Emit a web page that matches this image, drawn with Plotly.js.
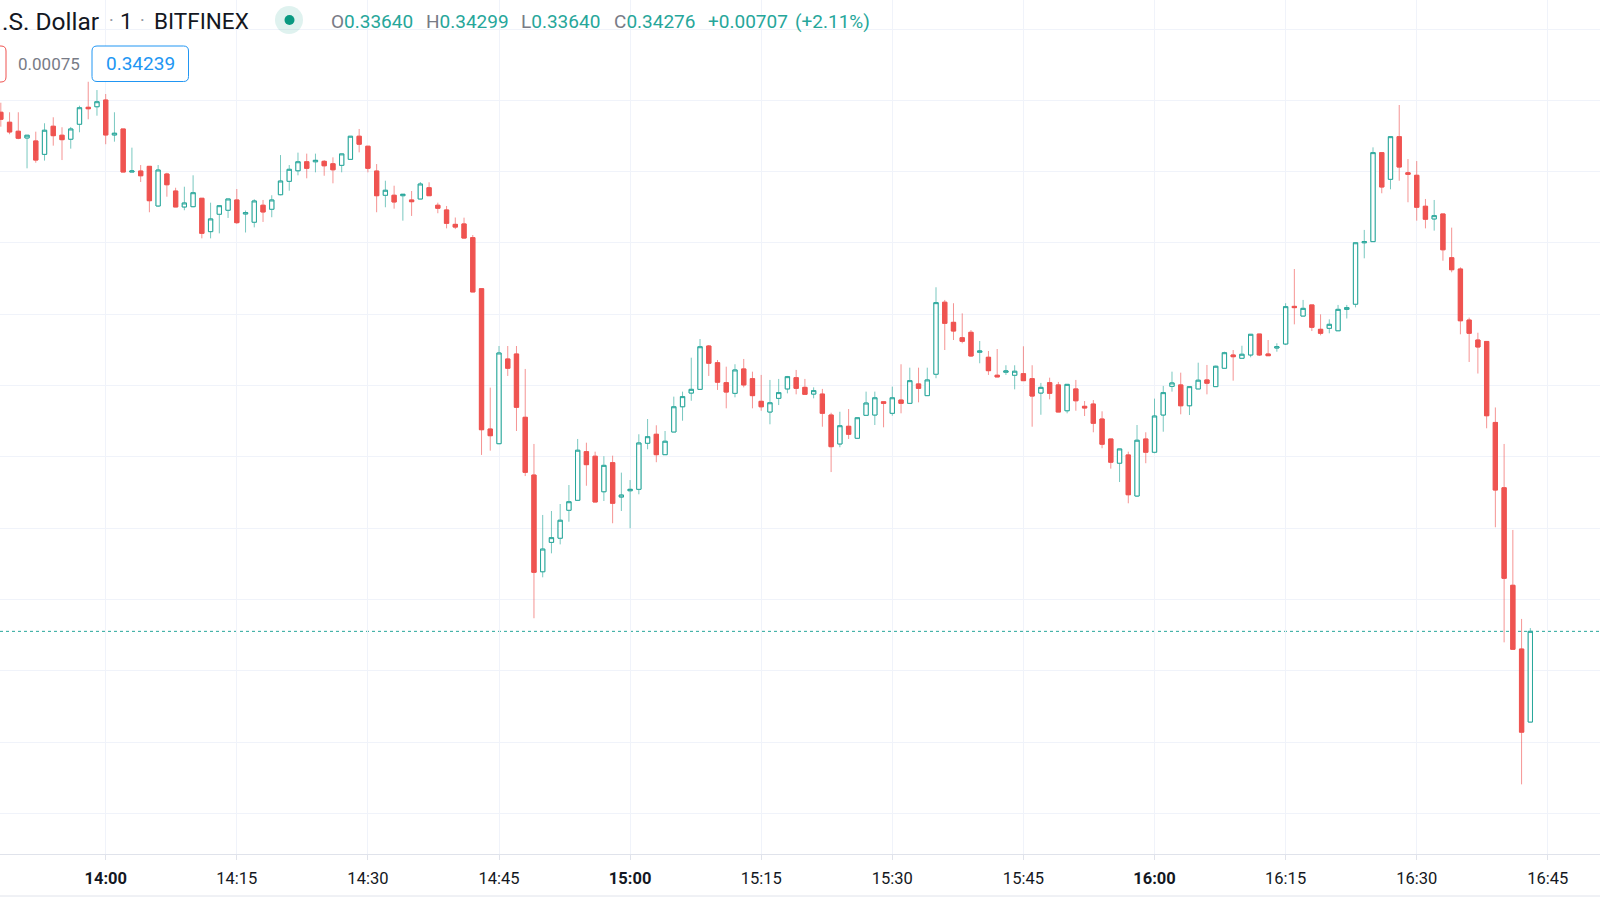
<!DOCTYPE html>
<html>
<head>
<meta charset="utf-8">
<script src="https://cdn.plot.ly/plotly-3.0.1.min.js"></script>
<style>html,body{margin:0;padding:0;background:#fff;}#chart{width:1600px;height:900px;}</style>
</head>
<body>
<div id="chart"></div>
<script>
// ---- DATA (1-minute candles, 13:48 .. 16:43) ----
const START_TIME = '13:48';
const OPEN = [
0.37916,0.37846,0.37783,0.37736,0.37715,0.37621,0.37818,0.37755,0.37727,0.37832,
0.37951,0.37955,0.38002,0.37757,0.37799,0.37497,0.37504,0.37537,0.37259,0.37483,
0.37364,0.37252,0.37254,0.37313,0.37079,0.37201,0.37229,0.37301,0.37203,0.37145,
0.37264,0.37236,0.37338,0.37432,0.37506,0.37569,0.37569,0.37572,0.37555,0.37544,
0.37586,0.37748,0.37678,0.37504,0.37334,0.37334,0.37331,0.37301,0.37308,0.37387,
0.37264,0.37231,0.37130,0.37133,0.37037,0.36679,0.35695,0.35592,0.36186,0.36221,
0.35777,0.35372,0.34694,0.34900,0.34929,0.35125,0.35195,0.35536,0.35504,0.35255,
0.35459,0.35218,0.35262,0.35272,0.35595,0.35658,0.35515,0.35674,0.35851,0.35947,
0.35973,0.36277,0.36160,0.36020,0.35945,0.36116,0.36048,0.35889,0.35814,0.35910,
0.35976,0.36055,0.35987,0.35940,0.35940,0.35793,0.35590,0.35714,0.35630,0.35791,
0.35793,0.35886,0.35805,0.35898,0.35875,0.36011,0.35929,0.36079,0.36584,0.36443,
0.36335,0.36373,0.36233,0.36198,0.36072,0.36093,0.36072,0.36083,0.36048,0.35947,
0.36020,0.36004,0.35823,0.35976,0.35854,0.35870,0.35765,0.35625,0.35455,0.35513,
0.35225,0.35625,0.35532,0.35793,0.35994,0.36004,0.35858,0.35976,0.36039,0.35992,
0.36121,0.36214,0.36191,0.36214,0.36361,0.36221,0.36263,0.36291,0.36555,0.36487,
0.36565,0.36394,0.36401,0.36384,0.36534,0.36570,0.37001,0.37009,0.37633,0.37446,
0.37745,0.37492,0.37474,0.37257,0.37168,0.37203,0.36896,0.36817,0.36459,0.36319,
0.36309,0.35741,0.35283,0.34599,0.34152,0.33640
];
const HIGH = [
0.37983,0.37916,0.37916,0.37755,0.37780,0.37839,0.37881,0.37811,0.37813,0.37962,
0.38130,0.38072,0.38044,0.37916,0.37799,0.37668,0.37546,0.37537,0.37546,0.37492,
0.37387,0.37394,0.37474,0.37313,0.37282,0.37261,0.37308,0.37378,0.37227,0.37306,
0.37301,0.37334,0.37616,0.37546,0.37633,0.37626,0.37626,0.37581,0.37600,0.37624,
0.37748,0.37799,0.37678,0.37553,0.37436,0.37401,0.37341,0.37364,0.37427,0.37425,
0.37282,0.37259,0.37178,0.37177,0.37055,0.36679,0.35985,0.36277,0.36277,0.36277,
0.36116,0.35590,0.35092,0.35120,0.35169,0.35302,0.35625,0.35599,0.35536,0.35504,
0.35508,0.35389,0.35337,0.35658,0.35765,0.35721,0.35681,0.35922,0.35957,0.36195,
0.36326,0.36284,0.36179,0.36132,0.36149,0.36186,0.36097,0.36074,0.36039,0.36046,
0.36067,0.36109,0.36046,0.35987,0.35976,0.35809,0.35816,0.35835,0.35774,0.35957,
0.35957,0.35886,0.35992,0.36149,0.36125,0.36125,0.36125,0.36689,0.36600,0.36577,
0.36506,0.36389,0.36312,0.36242,0.36256,0.36142,0.36142,0.36275,0.36142,0.36018,
0.36055,0.36025,0.36008,0.36039,0.35891,0.35898,0.35819,0.35625,0.35555,0.35536,
0.35723,0.35672,0.35908,0.35997,0.36097,0.36090,0.35992,0.36160,0.36144,0.36139,
0.36237,0.36249,0.36279,0.36359,0.36361,0.36319,0.36296,0.36577,0.36817,0.36600,
0.36565,0.36499,0.36464,0.36565,0.36565,0.37001,0.37091,0.37670,0.37633,0.37745,
0.37967,0.37588,0.37574,0.37308,0.37301,0.37203,0.37107,0.36829,0.36476,0.36370,
0.36309,0.35846,0.35590,0.34987,0.34363,0.34299
];
const LOW = [
0.37815,0.37762,0.37727,0.37523,0.37562,0.37577,0.37682,0.37581,0.37661,0.37776,
0.37867,0.37892,0.37692,0.37710,0.37497,0.37497,0.37427,0.37215,0.37254,0.37324,
0.37252,0.37229,0.37250,0.37032,0.37032,0.37067,0.37175,0.37133,0.37073,0.37109,
0.37147,0.37180,0.37334,0.37366,0.37474,0.37453,0.37495,0.37471,0.37418,0.37495,
0.37586,0.37635,0.37495,0.37215,0.37250,0.37240,0.37156,0.37189,0.37308,0.37331,
0.37208,0.37102,0.37097,0.37032,0.36656,0.35513,0.35543,0.35588,0.36067,0.35681,
0.35365,0.34368,0.34655,0.34823,0.34886,0.35045,0.35195,0.35297,0.35183,0.35190,
0.35034,0.35120,0.34999,0.35237,0.35553,0.35462,0.35515,0.35674,0.35753,0.35893,
0.35969,0.36067,0.35969,0.35840,0.35917,0.35987,0.35840,0.35823,0.35728,0.35863,
0.35945,0.35938,0.35938,0.35910,0.35711,0.35393,0.35567,0.35625,0.35630,0.35791,
0.35723,0.35707,0.35788,0.35805,0.35875,0.35882,0.35929,0.36051,0.36249,0.36319,
0.36296,0.36202,0.36156,0.36074,0.36060,0.36074,0.35973,0.36034,0.35711,0.35795,
0.35903,0.35814,0.35805,0.35823,0.35786,0.35672,0.35560,0.35417,0.35323,0.35174,
0.35220,0.35455,0.35525,0.35676,0.35957,0.35798,0.35793,0.35976,0.35938,0.35992,
0.36121,0.36034,0.36191,0.36198,0.36207,0.36209,0.36237,0.36284,0.36429,0.36487,
0.36382,0.36352,0.36366,0.36384,0.36470,0.36548,0.36892,0.37009,0.37348,0.37376,
0.37436,0.37285,0.37156,0.37102,0.37086,0.36875,0.36794,0.36359,0.36165,0.36084,
0.35700,0.35006,0.34199,0.34150,0.33203,0.33640
];
const CLOSE = [
0.37867,0.37778,0.37734,0.37755,0.37581,0.37790,0.37752,0.37724,0.37799,0.37948,
0.37941,0.37990,0.37757,0.37769,0.37497,0.37504,0.37471,0.37296,0.37511,0.37408,
0.37252,0.37280,0.37352,0.37067,0.37168,0.37261,0.37308,0.37142,0.37212,0.37294,
0.37217,0.37301,0.37434,0.37516,0.37569,0.37523,0.37579,0.37541,0.37513,0.37624,
0.37748,0.37692,0.37523,0.37331,0.37369,0.37287,0.37341,0.37289,0.37413,0.37331,
0.37243,0.37137,0.37111,0.37034,0.36656,0.35690,0.35648,0.36228,0.36121,0.35847,
0.35391,0.34690,0.34853,0.34933,0.35055,0.35185,0.35546,0.35445,0.35183,0.35440,
0.35174,0.35232,0.35272,0.35597,0.35641,0.35515,0.35609,0.35851,0.35922,0.35973,
0.36272,0.36156,0.36023,0.35954,0.36109,0.36004,0.35929,0.35851,0.35879,0.35950,
0.36062,0.35980,0.35938,0.35964,0.35805,0.35571,0.35718,0.35658,0.35774,0.35877,
0.35914,0.35875,0.35914,0.35875,0.36034,0.35980,0.36039,0.36581,0.36436,0.36382,
0.36310,0.36207,0.36242,0.36104,0.36060,0.36102,0.36100,0.36034,0.35926,0.35987,
0.35945,0.35814,0.36008,0.35893,0.35842,0.35735,0.35588,0.35462,0.35555,0.35234,
0.35616,0.35532,0.35786,0.35950,0.36018,0.35858,0.35992,0.36037,0.36016,0.36135,
0.36230,0.36202,0.36219,0.36359,0.36214,0.36209,0.36272,0.36553,0.36546,0.36541,
0.36408,0.36366,0.36429,0.36534,0.36546,0.37001,0.37009,0.37633,0.37392,0.37745,
0.37532,0.37481,0.37250,0.37166,0.37191,0.36952,0.36812,0.36454,0.36366,0.36270,
0.35788,0.35267,0.34648,0.34150,0.33569,0.34276
];
const TICK_LABELS = ['14:00','14:15','14:30','14:45','15:00','15:15','15:30','15:45','16:00','16:15','16:30','16:45'];
const SYMBOL_PARTS = ['.S. Dollar', '1', 'BITFINEX'];
const SPREAD_TEXT = '0.00075';
const BUY_TEXT = '0.34239';

// ---- build ----
const DAY = '2021-01-01';
function stamp(totalMin){
  const h = Math.floor(totalMin/60), m = totalMin%60;
  return DAY + ' ' + String(h).padStart(2,'0') + ':' + String(m).padStart(2,'0');
}
const [sh, sm] = START_TIME.split(':').map(Number);
const TIMES = OPEN.map((_, i) => stamp(sh*60 + sm + i));
const TICK_VALS = TICK_LABELS.map(t => DAY + ' ' + t);
const TICK_TEXT = TICK_LABELS.map(t => t.endsWith(':00') ? '<b>' + t + '</b>' : t);
// body extents (for drawing the bodies over the lighter wicks)
const BODY_TOP = OPEN.map((o, i) => Math.max(o, CLOSE[i]));
const BODY_BOT = OPEN.map((o, i) => Math.min(o, CLOSE[i]));

const W = 1600, H = 900, PH = 854;
const px = v => v / W;
const py = v => 1 - v / PH;

function rrect(x0, y0, x1, y1, r){
  return `M${px(x0+r)},${py(y0)} L${px(x1-r)},${py(y0)} Q${px(x1)},${py(y0)} ${px(x1)},${py(y0+r)} ` +
         `L${px(x1)},${py(y1-r)} Q${px(x1)},${py(y1)} ${px(x1-r)},${py(y1)} L${px(x0+r)},${py(y1)} ` +
         `Q${px(x0)},${py(y1)} ${px(x0)},${py(y1-r)} L${px(x0)},${py(y0+r)} Q${px(x0)},${py(y0)} ${px(x0+r)},${py(y0)} Z`;
}

const n = CLOSE.length;
const lastO = OPEN[n-1], lastH = HIGH[n-1], lastL = LOW[n-1], lastC = CLOSE[n-1], prevC = CLOSE[n-2];
const chg = lastC - prevC, pct = chg / prevC * 100;
const sign = chg >= 0 ? '+' : '−';

const TEAL = '#26a69a', RED = '#ef5350', GREY = '#787b86', DARK = '#131722';

const wickTrace = {
  type: 'candlestick',
  x: TIMES, open: OPEN, high: HIGH, low: LOW, close: CLOSE,
  increasing: {line: {color: 'rgba(38,166,154,0.62)', width: 1}, fillcolor: 'rgba(0,0,0,0)'},
  decreasing: {line: {color: 'rgba(239,83,80,0.62)', width: 1}, fillcolor: 'rgba(0,0,0,0)'},
  whiskerwidth: 0,
  hoverinfo: 'none'
};
const bodyTrace = {
  type: 'candlestick',
  x: TIMES, open: OPEN, high: BODY_TOP, low: BODY_BOT, close: CLOSE,
  increasing: {line: {color: TEAL, width: 1}, fillcolor: '#ffffff'},
  decreasing: {line: {color: RED, width: 1}, fillcolor: RED},
  whiskerwidth: 0,
  hoverinfo: 'none'
};

function ann(text, x, y, size, color, anchor, extra){
  return Object.assign({text: text, x: px(x), y: py(y), xref: 'paper', yref: 'paper',
    xanchor: anchor || 'left', yanchor: 'middle', showarrow: false,
    font: {family: 'Roboto', size: size, color: color}}, extra || {});
}

const ohlcItems = [
  ['O', lastO.toFixed(5), 329],
  ['H', lastH.toFixed(5), 423.5],
  ['L', lastL.toFixed(5), 519],
  ['C', lastC.toFixed(5), 612]
];
const annotations = [
  ann(SYMBOL_PARTS[0], 0, 21, 24.5, DARK, 'left'),
  ann('·', 111, 20, 18, '#9598a1', 'center'),
  ann(SYMBOL_PARTS[1], 126, 21, 22.5, DARK, 'center'),
  ann('·', 142, 20, 18, '#9598a1', 'center'),
  ann(SYMBOL_PARTS[2], 152, 21, 22.5, DARK, 'left'),
  ...ohlcItems.map(([k, v, x]) => ann('<span style="color:' + GREY + '">' + k + '</span>' + v, x, 21, 19, TEAL, 'left')),
  ann(sign + Math.abs(chg).toFixed(5), 706, 21, 19, TEAL, 'left'),
  ann('(' + sign + Math.abs(pct).toFixed(2) + '%)', 793, 21, 19, TEAL, 'left'),
  ann(SPREAD_TEXT, 49, 64, 17, GREY, 'center'),
  ann(BUY_TEXT, 140.5, 64, 19, '#2196f3', 'center')
];

const shapes = [
  {type: 'line', xref: 'paper', yref: 'y', x0: 0, x1: 1, y0: lastC, y1: lastC,
   line: {color: TEAL, width: 1, dash: 'dot'}, layer: 'below'},
  {type: 'line', xref: 'paper', yref: 'paper', x0: 0, x1: 1, y0: py(896), y1: py(896),
   line: {color: '#e0e3eb', width: 1}},
  {type: 'circle', xref: 'paper', yref: 'paper', x0: px(275), x1: px(303), y0: py(34), y1: py(6),
   fillcolor: 'rgba(8,153,129,0.13)', line: {width: 0}},
  {type: 'circle', xref: 'paper', yref: 'paper', x0: px(284.5), x1: px(294.5), y0: py(25), y1: py(15),
   fillcolor: '#089981', line: {width: 0}},
  {type: 'path', xref: 'paper', yref: 'paper', path: rrect(-60, 46, 6, 82, 5),
   fillcolor: '#ffffff', line: {color: RED, width: 1}},
  {type: 'path', xref: 'paper', yref: 'paper', path: rrect(92, 46, 188.5, 81.5, 5),
   fillcolor: '#ffffff', line: {color: '#2196f3', width: 1}}
];

const layout = {
  width: W, height: H,
  margin: {l: 0, r: 0, t: 0, b: H - PH, pad: 0},
  paper_bgcolor: '#ffffff', plot_bgcolor: '#ffffff',
  font: {family: 'Roboto', color: DARK},
  showlegend: false,
  hovermode: false,
  boxmode: 'overlay',
  xaxis: {
    type: 'date',
    range: [DAY + ' 13:47:54.36', DAY + ' 16:50:58.3'],
    rangeslider: {visible: false},
    tickmode: 'array', tickvals: TICK_VALS, ticktext: TICK_TEXT,
    showgrid: true, gridcolor: '#f0f3fa', gridwidth: 1,
    showline: true, linecolor: '#e0e3eb', linewidth: 1,
    ticks: 'outside', ticklen: 5, tickcolor: '#e0e3eb',
    tickfont: {family: 'Roboto', size: 16.5, color: DARK},
    ticklabelstandoff: 4,
    zeroline: false, fixedrange: true
  },
  yaxis: {
    range: [0.327146, 0.387034],
    tickmode: 'linear', tick0: 0, dtick: 0.005,
    showticklabels: false, ticks: '',
    showgrid: true, gridcolor: '#f0f3fa', gridwidth: 1,
    zeroline: false, showline: false, fixedrange: true
  },
  shapes: shapes,
  annotations: annotations
};

Plotly.newPlot('chart', [wickTrace, bodyTrace], layout, {displayModeBar: false, staticPlot: true});
</script>
</body>
</html>
